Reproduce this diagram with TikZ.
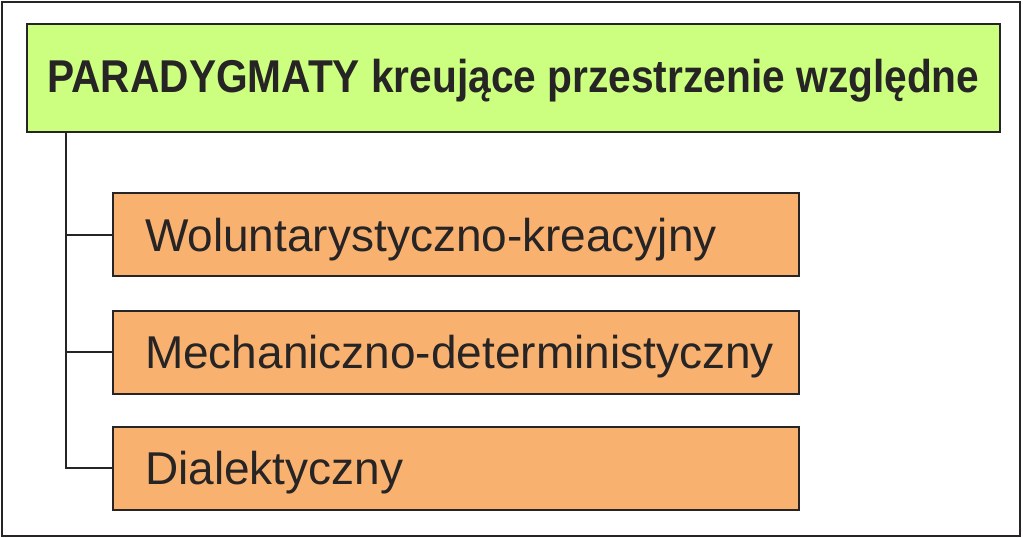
\documentclass[tikz,border=0pt]{standalone}
\usepackage{fontspec}
\setmainfont{Liberation Sans}
\usepackage{graphicx}
\definecolor{headgreen}{HTML}{CCFF80}
\definecolor{itemorange}{HTML}{F9B170}
\definecolor{inkgray}{HTML}{262424}
\tikzset{
  frameline/.style={draw=inkgray, line width=2pt},
  headbox/.style={draw=inkgray, fill=headgreen, line width=2pt, minimum width=973pt, minimum height=108pt, inner sep=0pt, text height=28pt, text depth=0pt, text=inkgray},
  itembox/.style={draw=inkgray, fill=itemorange, line width=2pt, minimum width=686pt, minimum height=83pt, inner xsep=32pt, inner ysep=0pt, text width=622pt, align=left, text height=33pt, text depth=0pt, text=inkgray, font=\fontsize{46}{55}\selectfont},
  conn/.style={draw=inkgray, line width=2pt}
}
\begin{document}
\begin{tikzpicture}[x=1pt,y=-1pt]
\useasboundingbox (0,0) rectangle (1023,538);
\draw[frameline] (2,2) rectangle (1020,536);
\node[headbox] (head) at (513.5,78) {\resizebox{932pt}{\height}{\fontsize{46}{55}\selectfont\bfseries PARADYGMATY kreujące przestrzenie względne}};
\node[itembox] (b1) at (456,234.5) {\mbox{Woluntarystyczno-kreacyjny}};
\node[itembox] (b2) at (456,352) {\mbox{Mechaniczno-deterministyczny}};
\node[itembox] (b3) at (456,468) {\mbox{Dialektyczny}};
\coordinate (trunk) at (66,0);
\draw[conn] (head.south -| trunk) |- (b3.west);
\draw[conn] (trunk |- b1.west) -- (b1.west);
\draw[conn] (trunk |- b2.west) -- (b2.west);
\end{tikzpicture}
\end{document}
